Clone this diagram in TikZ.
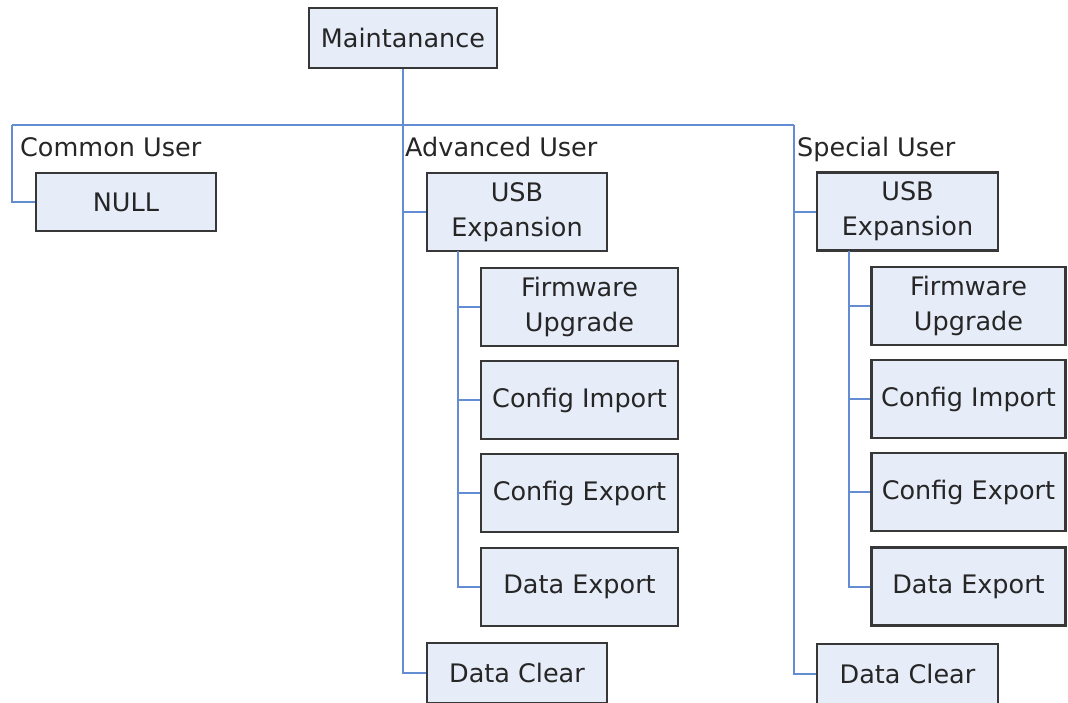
\documentclass[tikz,border=0pt]{standalone}
\usepackage{fontspec}
\setmainfont{DejaVu Sans}
\definecolor{boxfill}{RGB}{230,236,248}
\definecolor{boxline}{RGB}{55,55,55}
\definecolor{connline}{RGB}{100,140,210}
\begin{document}
\begin{tikzpicture}[x=1pt,y=-1pt,
  box/.style={draw=boxline, fill=boxfill, line width=2.2pt, inner sep=0pt, align=center,
    font=\fontsize{25.5}{35}\selectfont, text=black!85},
  conn/.style={draw=connline, line width=2pt},
  grp/.style={anchor=base west, inner sep=0pt, font=\fontsize{25.5}{30}\selectfont, text=black!85}]
\useasboundingbox (0,0) rectangle (1068,702);
\clip (0,0) rectangle (1068,702);
% nodes
\node[box, minimum width=188, minimum height=60] (main) at (403,38) {Maintanance};
\node[box, minimum width=180, minimum height=58] (null) at (126,202) {NULL};
\node[box, minimum width=180, minimum height=78] (usbA) at (517,212) {USB\\Expansion};
\node[box, minimum width=197, minimum height=78] (fwA) at (579.5,307) {Firmware\\Upgrade};
\node[box, minimum width=197, minimum height=78] (ciA) at (579.5,400) {Config Import};
\node[box, minimum width=197, minimum height=78] (ceA) at (579.5,493) {Config Export};
\node[box, minimum width=197, minimum height=78] (deA) at (579.5,587) {Data Export};
\node[box, minimum width=180, minimum height=60] (dcA) at (517,673) {Data Clear};
\node[box, minimum width=181, minimum height=78] (usbS) at (907.5,211.5) {USB\\Expansion};
\node[box, minimum width=194, minimum height=78] (fwS) at (968.5,306) {Firmware\\Upgrade};
\node[box, minimum width=194, minimum height=78] (ciS) at (968.5,399) {Config Import};
\node[box, minimum width=194, minimum height=78] (ceS) at (968.5,492) {Config Export};
\node[box, minimum width=194, minimum height=78] (deS) at (968.5,586.5) {Data Export};
\node[box, minimum width=181, minimum height=60] (dcS) at (907.5,674) {Data Clear};
% group labels
\node[grp] (lc) at (20,156) {Common User};
\node[grp] (la) at (405,156) {Advanced User};
\node[grp] (ls) at (797,156) {Special User};
% connector coordinates
\coordinate (tl) at (12,125);
\coordinate (tc) at (403,125);
\coordinate (tr) at (794,125);
\coordinate (subA) at (458,251);
\coordinate (subS) at (849,251);
% connectors
\draw[conn] (main.south) -- (tc);
\draw[conn] (tl) -- (tr);
\draw[conn] (tl) |- (null.west);
\draw[conn] (tc) |- (usbA.west);
\draw[conn] (tc) |- (dcA.west);
\draw[conn] (tr) |- (usbS.west);
\draw[conn] (tr) |- (dcS.west);
\draw[conn] (subA) |- (fwA.west);
\draw[conn] (subA) |- (ciA.west);
\draw[conn] (subA) |- (ceA.west);
\draw[conn] (subA) |- (deA.west);
\draw[conn] (subS) |- (fwS.west);
\draw[conn] (subS) |- (ciS.west);
\draw[conn] (subS) |- (ceS.west);
\draw[conn] (subS) |- (deS.west);
\end{tikzpicture}
\end{document}
